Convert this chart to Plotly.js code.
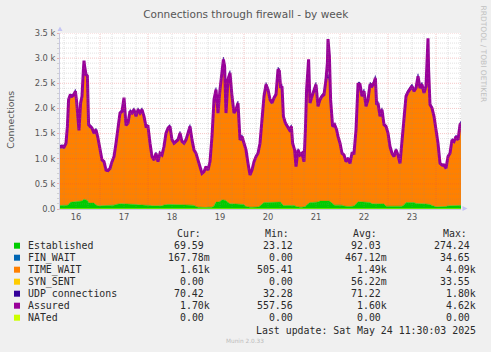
<!DOCTYPE html>
<html><head><meta charset="utf-8">
<script src="https://cdn.plot.ly/plotly-3.0.1.min.js"></script>
<style>html,body{margin:0;padding:0;background:#f0f0f0;}#chart{width:491px;height:352px;}</style>
</head><body><div id="chart"></div>
<script>
// hours after 2025-05-16 04:00
const hours = [
0,1,2,3,3.7,4.3,5,6,7,7.7,
8.3,9,9.5,10.3,11,11.7,12,12.3,13,13.7,
14.3,15,16,17,18,19,20,21,22,23,
24,25,26,27,28,29,30,31,32,33,
34,35,36,37,38,39,40,41,42,43,
44,45,46,47,48,49,50,51,52,53,
54,55,56,57,58,59,60,61,62,63,
64,65,66,67,68,69,70,71,72,73,
74,75,76,77,78,79,80,81,81.7,82.3,
83,84,85,86,87,88,89,90,91,92,
93,94,95,96,97,98,99,100,101,102,
103,104,105,106,107,108,109,109.7,110.3,111,
111.7,112.7,113.7,114.7,115.7,116.3,117.3,118,119,120,
121,122,122.7,123.3,124.3,125,126,127,128,129,
130,131,132,133,133.7,134,134.7,135.3,136.3,137.3,
138.3,139,140,141,142,143,144,145,146,147,
148,149,150,151,152,153,154,155,156,157,
157.7,158.3,159,160,161,162,163,164,165,166,
167,168,169,170,171,172,173,174,175,176,
177,178,179,180,181,182,183,183.7,184,184.3,
185,186,187,188,189,190,191,192,193,194,
195,196,197,198,199,200,200.5];

const established = [
70,70,70,70,75,90,130,137,140,145,
150,150,150,150,160,185,200,190,180,170,
130,117,117,117,80,63,63,63,63,63,
77,77,77,77,90,103,103,103,103,103,
103,103,103,103,90,83,83,83,83,83,
83,70,63,63,63,63,63,63,80,90,
90,90,90,90,90,90,80,77,77,77,
77,77,77,70,45,37,37,30,25,30,
37,37,37,60,137,137,150,183,183,183,
170,130,103,103,103,103,103,103,103,90,
50,37,37,37,37,37,40,60,100,130,
130,130,130,137,137,137,137,137,137,100,
70,70,70,70,70,70,70,50,37,37,
37,37,50,80,100,130,130,130,130,140,
157,157,157,157,157,157,157,140,100,77,
77,77,77,77,60,50,50,50,50,60,
100,143,143,143,143,143,143,130,103,103,
103,103,103,103,103,100,57,57,57,57,
57,57,57,57,57,80,130,130,130,130,
130,110,103,103,103,103,103,103,103,103,
90,70,50,43,43,43,43,43,50,63,
63,63,63,63,63,70,70];

const timeWait = [
1130,1137,1123,1203,1532,2050,2090,2070,2100,2162,
1957,1580,1380,1923,2047,2555,2600,2617,2460,2437,
1510,1490,1456,1356,1460,1310,1077,877,844,677,
653,693,830,930,1183,1437,1770,1804,1847,1527,
1570,1804,1770,1837,1717,1857,1790,1857,1724,1524,
1524,1203,944,877,1010,844,1010,977,1127,1383,
1483,1517,1250,1183,1217,1250,1393,1230,1196,1263,
1396,1530,1263,1070,1028,903,770,643,682,777,
703,870,1370,2080,2203,1736,2190,2490,2757,2624,
1703,2410,2570,2104,1770,1837,1970,1237,1304,1183,
1090,836,603,703,870,970,1033,1213,1573,2077,
2310,2210,2010,1936,2036,2103,2603,2570,2236,2307,
1737,1603,1537,1470,1537,1203,1070,757,1103,1003,
1036,870,1490,2260,2400,1943,2077,2210,2310,1867,
1983,2050,2083,2383,2443,2443,2343,2000,1507,1563,
1463,1333,1196,996,980,857,923,823,1023,1013,
1440,2297,2297,2064,2164,1864,1997,2310,2304,2370,
2470,1937,1970,1704,1837,1540,1550,1416,1150,1016,
950,1083,983,816,1283,1593,2077,2160,2210,2277,
2177,2263,2504,2270,2337,2170,2304,2447,2507,2347,
1950,1903,1757,1497,1230,830,797,797,723,944,
1010,1277,1244,1344,1277,1570,1610];

const udp = [
68,70,72,70,68,66,68,70,72,74,
74,72,70,70,72,76,78,76,74,72,
70,70,72,70,68,66,64,62,60,58,
58,60,62,64,66,68,70,72,74,72,
72,74,72,74,72,74,72,74,72,70,
70,66,62,60,62,60,62,62,64,68,
70,72,70,68,70,70,72,70,70,70,
72,74,70,66,62,58,54,50,50,52,
54,58,64,72,76,74,78,80,82,80,
76,80,80,78,76,76,76,70,70,68,
64,58,52,54,56,58,60,64,70,76,
78,76,74,74,76,76,80,80,78,78,
72,70,70,68,70,66,64,56,62,60,
62,58,66,76,80,76,76,78,80,76,
78,78,78,82,84,84,82,78,72,72,
70,68,66,62,62,58,60,58,62,62,
68,80,80,76,78,74,76,80,80,80,
82,76,76,72,74,70,70,68,62,60,
58,62,60,56,66,70,78,78,80,80,
78,80,82,80,80,78,80,82,82,80,
74,72,70,66,62,56,54,54,54,58,
60,64,64,66,64,70,70];

const assured = [
1235,1242,1228,1308,1642,2175,2255,2242,2275,2342,
2142,1765,1565,2108,2242,2775,2950,2842,2675,2642,
1675,1642,1608,1508,1575,1408,1175,975,942,775,
765,805,942,1042,1308,1575,1908,1942,2215,1665,
1708,1942,1908,1975,1842,1975,1908,1975,1842,1642,
1642,1308,1042,975,1108,942,1108,1075,1242,1508,
1608,1642,1375,1308,1342,1375,1508,1342,1308,1375,
1508,1642,1375,1175,1108,975,842,708,742,842,
775,942,1442,2175,2375,1908,2375,2708,2975,2842,
1908,2575,2708,2242,1908,1975,2108,1375,1442,1308,
1175,908,675,775,942,1042,1108,1308,1708,2242,
2475,2375,2175,2108,2208,2275,2775,2742,2408,2442,
1842,1708,1642,1575,1642,1308,1175,842,1175,1075,
1108,942,1575,2375,2975,2108,2242,2375,2475,2042,
2175,2242,2275,2575,2908,3380,3042,2175,1642,1675,
1575,1445,1308,1108,1075,942,1008,908,1108,1108,
1575,2475,2475,2242,2342,2042,2175,2475,2442,2508,
2608,2075,2108,1842,1975,1675,1642,1508,1242,1108,
1042,1175,1075,908,1375,1708,2242,2325,2375,2442,
2342,2408,2642,2408,2475,2308,2442,3175,3395,2775,
2075,2008,1842,1575,1308,908,875,875,808,1042,
1108,1375,1342,1442,1375,1675,1700];

const natedHours = [0, 200.5];
const natedValues = [0, 0];

const dayLabels = ['16','17','18','19','20','21','22','23'];
const yTickVals = [0,500,1000,1500,2000,2500,3000,3500];
const yTickText = ['0.0','0.5 k','1.0 k','1.5 k','2.0 k','2.5 k','3.0 k','3.5 k'];

const legendNames = ['Established','FIN_WAIT','TIME_WAIT','SYN_SENT','UDP connections','Assured','NATed'];
const legendColors = ['#00cc00','#0066b3','#ff8000','#ffcc00','#330099','#990099','#ccff00'];
const curVals = ['69.59','167.78m','1.61k','0.00','70.42','1.70k','0.00'];
const minVals = ['23.12','0.00','505.41','0.00','32.28','557.56','0.00'];
const avgVals = ['92.03','467.12m','1.49k','56.22m','71.22','1.60k','0.00'];
const maxVals = ['274.24','34.65','4.09k','33.55','1.80k','4.62k','0.00'];

const START = Date.UTC(2025,4,16,4,0,0);
function toDate(h){ return new Date(START + h*3600000).toISOString().slice(0,19).replace('T',' '); }
const xs = hours.map(toDate);

const PL=60, PT=33, PW=401, PH=176, W=491, H=352;
const px = x => (x-PL)/PW;
const py = y => (PT+PH-y)/PH;

const traces = [
 {x:xs, y:established, type:'scatter', mode:'lines', stackgroup:'s', line:{width:0.5,color:'#00cc00'}, fillcolor:'#00cc00', hoverinfo:'skip'},
 {x:xs, y:timeWait, type:'scatter', mode:'lines', stackgroup:'s', line:{width:0.5,color:'#ff8000'}, fillcolor:'#ff8000', hoverinfo:'skip'},
 {x:xs, y:udp, type:'scatter', mode:'lines', stackgroup:'s', line:{width:0.5,color:'#330099'}, fillcolor:'#330099', hoverinfo:'skip'},
 {x:xs, y:assured, type:'scatter', mode:'lines', line:{width:3,color:'#990099'}, hoverinfo:'skip'},
 {x:natedHours.map(toDate), y:natedValues, type:'scatter', mode:'lines', line:{width:1,color:'#ccff00'}, hoverinfo:'skip'}
];

const MAJ='rgba(222,80,80,0.32)', MIN='rgba(140,140,140,0.26)';
const shapes=[];
for(let v=100; v<=3500; v+=100){
  shapes.push({type:'line', xref:'paper', x0:0, x1:1, yref:'y', y0:v, y1:v, layer:'above',
    line:{color: v%500===0?MAJ:MIN, width:1, dash:'1px,1px'}});
}
for(let h=2; h<=200; h+=6){
  const major = ((h-20)%24===0);
  shapes.push({type:'line', xref:'x', x0:toDate(h), x1:toDate(h), yref:'paper', y0:0, y1:1, layer:'above',
    line:{color: major?MAJ:MIN, width:1, dash:'1px,1px'}});
}
const ARW='#c4c4f4';
shapes.push({type:'path', xref:'paper', yref:'paper', layer:'above',
  path:`M ${px(57.5)},${py(31)} L ${px(62.5)},${py(31)} L ${px(60)},${py(26.5)} Z`, fillcolor:ARW, line:{width:0}});
shapes.push({type:'path', xref:'paper', yref:'paper', layer:'above',
  path:`M ${px(462.5)},${py(206)} L ${px(462.5)},${py(211)} L ${px(467.5)},${py(208.5)} Z`, fillcolor:ARW, line:{width:0}});

const MONO='DejaVu Sans Mono', SANS='DejaVu Sans';
const ann=[];
function A(text,x,y,xa,size,color,family,extra){
  ann.push(Object.assign({text:text, xref:'paper', yref:'paper', x:px(x), y:py(y), xanchor:xa, yanchor:'middle',
    showarrow:false, borderpad:0, font:{family:family||MONO, size:size||9.9, color:color||'#2a2a2a'}}, extra||{}));
}
A('Connections', 10.7, 120, 'center', 9.4, '#555', SANS, {textangle:-90});
A('RRDTOOL / TOBI OETIKER', 482.5, 54, 'center', 7.5, '#c0c0c0', SANS, {textangle:90});
const heads=[['Cur:',176],['Min:',264.3],['Avg:',352.3],['Max:',442.3]];
heads.forEach(([t,x])=>A(t,x,233.3,'left'));
const colEnds=[205,294.3,382.3,471];
const cols=[curVals,minVals,avgVals,maxVals];
legendNames.forEach((n,i)=>{
  const y=245.7+12*i;
  A(n,26.7,y,'left');
  shapes.push({type:'rect', xref:'paper', yref:'paper', x0:px(14), x1:px(20), y0:py(y-3), y1:py(y+3),
    fillcolor:legendColors[i], line:{width:0}, layer:'above'});
  cols.forEach((arr,c)=>{
    const s=arr[i];
    const x=colEnds[c] + (/[a-z]$/i.test(s)?6:0);
    A(s,x,y,'right');
  });
});
A('Last update: Sat May 24 11:30:03 2025', 477.3, 330, 'right');
A('Munin 2.0.33', 245, 340.7, 'center', 5.8, '#bbbbbb', SANS);

const dayNoons = dayLabels.map((d,k)=>toDate(8+24*k));

const layout = {
  width:W, height:H, paper_bgcolor:'#f0f0f0', plot_bgcolor:'#ffffff',
  margin:{l:PL, r:W-PL-PW, t:PT, b:H-PT-PH, pad:0},
  showlegend:false,
  title:{text:'Connections through firewall - by week', font:{family:SANS, size:10.5, color:'#555'},
    xref:'container', x:245.7/W, xanchor:'center', yref:'container', y:1-14/H, yanchor:'middle'},
  xaxis:{type:'date', range:[toDate(0), toDate(200.5)], tickmode:'array', tickvals:dayNoons, ticktext:dayLabels,
    ticks:'', showgrid:false, zeroline:false, showline:true, linecolor:'#c8c8e0', linewidth:1,
    tickfont:{family:SANS, size:8.3, color:'#555'}, fixedrange:true},
  yaxis:{range:[0,3500], tickmode:'array', tickvals:yTickVals, ticktext:yTickText,
    ticks:'outside', ticklen:2, tickcolor:'#e8b0b0', showgrid:false, zeroline:false, showline:true,
    linecolor:'#c8c8e0', linewidth:1, tickfont:{family:SANS, size:8.3, color:'#555'}, fixedrange:true,
    minor:{tickmode:'linear', tick0:0, dtick:100, ticks:'outside', ticklen:2, tickcolor:'#d0d0d0', showgrid:false}},
  shapes:shapes, annotations:ann
};
Plotly.newPlot('chart', traces, layout, {displayModeBar:false, staticPlot:true});
</script></body></html>
